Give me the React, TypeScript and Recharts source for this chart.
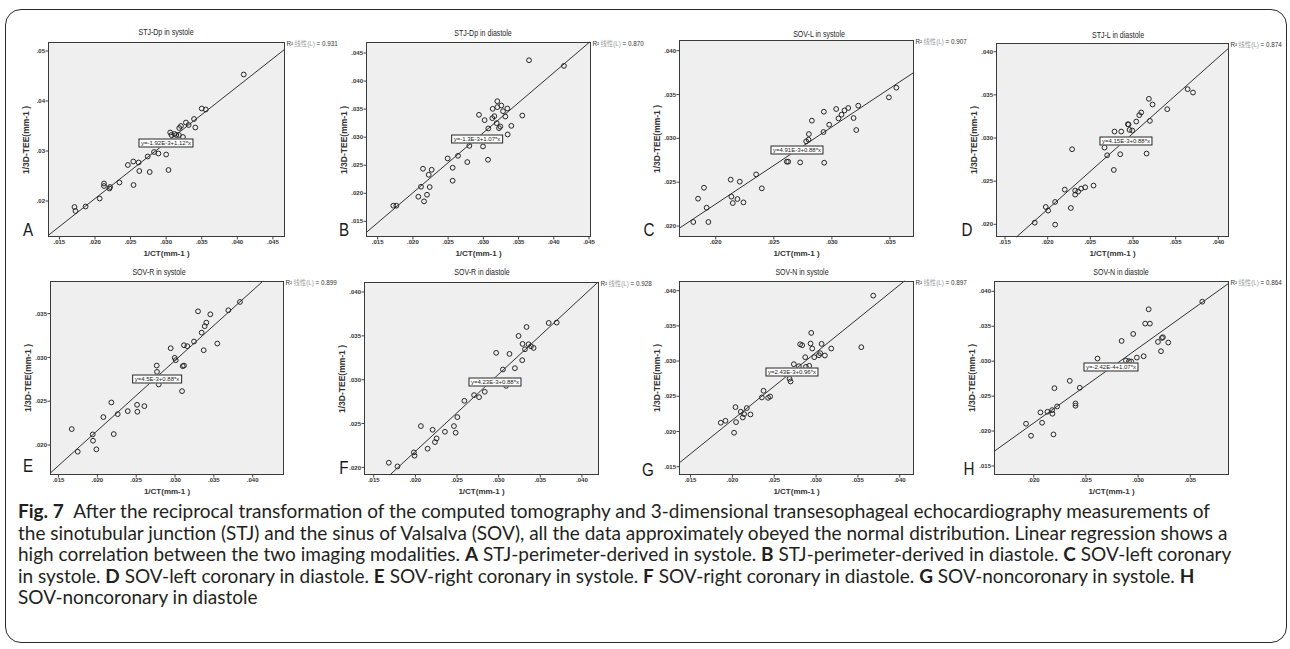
import { CartesianGrid, ReferenceLine, Scatter, ScatterChart, XAxis, YAxis } from "recharts";

type Pt = [number, number]; // [1/CT, 1/3D-TEE] in mm^-1

// values
const stjDpSystole: Pt[] = [
  [0.01712, 0.0188], [0.01726, 0.018], [0.01868, 0.0189], [0.02066, 0.0205], [0.02127, 0.0235],
  [0.02127, 0.023], [0.02203, 0.0225], [0.02212, 0.0228], [0.02344, 0.0237], [0.02462, 0.0272],
  [0.02538, 0.0279], [0.02542, 0.0232], [0.02613, 0.0277], [0.02623, 0.026], [0.02741, 0.0289],
  [0.02769, 0.0258], [0.0283, 0.0298], [0.02892, 0.0295], [0.03, 0.0293], [0.03033, 0.0262],
  [0.03057, 0.0337], [0.03075, 0.0332], [0.03118, 0.0334], [0.03142, 0.0332], [0.03184, 0.0346],
  [0.03208, 0.035], [0.03179, 0.0332], [0.03236, 0.0328], [0.03278, 0.0357], [0.03316, 0.0352],
  [0.03392, 0.0364], [0.0341, 0.0347], [0.035, 0.0385], [0.03557, 0.0383], [0.0409, 0.0453],
];
const stjDpDiastole: Pt[] = [
  [0.01722, 0.01779], [0.01765, 0.01779], [0.02077, 0.01939], [0.02115, 0.02117], [0.02143, 0.02437],
  [0.02158, 0.01856], [0.022, 0.01974], [0.02224, 0.0233], [0.02238, 0.02111], [0.02266, 0.02419],
  [0.02493, 0.02621], [0.02564, 0.02455], [0.02564, 0.02224], [0.0264, 0.02668], [0.02772, 0.02556],
  [0.02801, 0.02846], [0.02938, 0.03398], [0.02995, 0.02835], [0.03018, 0.03303], [0.03066, 0.02597],
  [0.0307, 0.03155], [0.03127, 0.03339], [0.03132, 0.03505], [0.03156, 0.03374], [0.03189, 0.0325],
  [0.03198, 0.03641], [0.03198, 0.03535], [0.03222, 0.03161], [0.03241, 0.0319], [0.03255, 0.03564],
  [0.03279, 0.03463], [0.03312, 0.03368], [0.0334, 0.03511], [0.03345, 0.03048], [0.03397, 0.03202],
  [0.03553, 0.03386], [0.03648, 0.04371], [0.04144, 0.0427],
];
const sovLSystole: Pt[] = [
  [0.01807, 0.02046], [0.01848, 0.02312], [0.01899, 0.02437], [0.01922, 0.02209], [0.01937, 0.02046],
  [0.02129, 0.02529], [0.02135, 0.02335], [0.02147, 0.02262], [0.02187, 0.02308], [0.02207, 0.02506],
  [0.02239, 0.0227], [0.02348, 0.02589], [0.02397, 0.0243], [0.02612, 0.02734], [0.02624, 0.02734],
  [0.02727, 0.02726], [0.02779, 0.02966], [0.02799, 0.02985], [0.02802, 0.03049], [0.02828, 0.03202],
  [0.02928, 0.03072], [0.02931, 0.03304], [0.02934, 0.02722], [0.02977, 0.03156], [0.03037, 0.03335],
  [0.03057, 0.03228], [0.03083, 0.0327], [0.03109, 0.03319], [0.03141, 0.03346], [0.03187, 0.03232],
  [0.0321, 0.03095], [0.03227, 0.03373], [0.03491, 0.03468], [0.03555, 0.03578],
];
const stjLDiastole: Pt[] = [
  [0.01848, 0.02019], [0.01977, 0.02201], [0.02005, 0.02159], [0.02087, 0.02259], [0.02087, 0.01996],
  [0.022, 0.02402], [0.02271, 0.02189], [0.02286, 0.0287], [0.02322, 0.02391], [0.02322, 0.02344],
  [0.02357, 0.02379], [0.02392, 0.02414], [0.02439, 0.02429], [0.02537, 0.02449], [0.02666, 0.02889],
  [0.02697, 0.028], [0.02775, 0.0263], [0.02783, 0.03075], [0.0285, 0.02812], [0.02862, 0.03075],
  [0.0294, 0.0316], [0.02948, 0.03156], [0.02959, 0.03094], [0.02991, 0.03087], [0.03038, 0.03191],
  [0.03073, 0.03265], [0.03096, 0.03296], [0.03159, 0.0282], [0.03186, 0.03454], [0.03198, 0.03199],
  [0.03229, 0.03388], [0.03401, 0.03334], [0.0364, 0.03566], [0.03703, 0.03527],
];
const sovRSystole: Pt[] = [
  [0.0167, 0.02182], [0.01747, 0.01924], [0.0194, 0.02121], [0.01944, 0.02049], [0.01987, 0.01951],
  [0.02077, 0.02319], [0.0218, 0.02486], [0.02211, 0.02125], [0.02262, 0.02353], [0.02391, 0.02387],
  [0.02511, 0.02459], [0.02515, 0.0238], [0.02605, 0.02444], [0.02764, 0.02907], [0.02768, 0.02835],
  [0.0279, 0.02691], [0.02944, 0.03105], [0.02996, 0.02995], [0.03009, 0.02968], [0.0309, 0.02615],
  [0.03099, 0.029], [0.03115, 0.02907], [0.03115, 0.03139], [0.03158, 0.03128], [0.03244, 0.03181],
  [0.03296, 0.03526], [0.03343, 0.03283], [0.03369, 0.03082], [0.03382, 0.03356], [0.03403, 0.03397],
  [0.03454, 0.03492], [0.03544, 0.03158], [0.03686, 0.03538], [0.03836, 0.03633],
];
const sovRDiastole: Pt[] = [
  [0.01681, 0.02053], [0.01785, 0.02011], [0.01982, 0.02171], [0.0199, 0.02133], [0.02066, 0.02471],
  [0.02147, 0.02213], [0.02207, 0.02429], [0.02235, 0.02288], [0.02255, 0.0233], [0.02355, 0.02406],
  [0.02463, 0.02471], [0.02484, 0.02395], [0.02504, 0.02573], [0.02588, 0.02759], [0.02705, 0.02824],
  [0.02765, 0.02801], [0.02833, 0.02862], [0.0297, 0.03306], [0.03051, 0.03116], [0.0309, 0.0293],
  [0.0313, 0.03294], [0.03195, 0.03131], [0.03239, 0.03499], [0.03283, 0.03222], [0.03287, 0.03408],
  [0.03316, 0.03347], [0.03335, 0.03601], [0.03359, 0.03404], [0.03388, 0.03381], [0.0342, 0.03362],
  [0.03601, 0.03647], [0.03697, 0.03651],
];
const sovNSystole: Pt[] = [
  [0.01861, 0.02124], [0.01917, 0.02152], [0.0202, 0.01982], [0.02037, 0.02346], [0.02044, 0.02133],
  [0.021, 0.0228], [0.02124, 0.02199], [0.0214, 0.02247], [0.02172, 0.02332], [0.02216, 0.02242],
  [0.02352, 0.02483], [0.02372, 0.02578], [0.02427, 0.02478], [0.02451, 0.02497], [0.02623, 0.02819],
  [0.02683, 0.02748], [0.02695, 0.0271], [0.02734, 0.02956], [0.02794, 0.02927], [0.0281, 0.03239],
  [0.02834, 0.03225], [0.0287, 0.03055], [0.02878, 0.02918], [0.02918, 0.02932], [0.02934, 0.03249],
  [0.02942, 0.034], [0.02954, 0.03178], [0.02978, 0.03055], [0.03034, 0.03083], [0.03049, 0.03112],
  [0.03066, 0.03244], [0.03105, 0.03079], [0.03181, 0.03178], [0.0354, 0.03197], [0.03683, 0.03929],
];
const sovNDiastole: Pt[] = [
  [0.01926, 0.02105], [0.01974, 0.01933], [0.02064, 0.02267], [0.0208, 0.02119], [0.02131, 0.02276],
  [0.02176, 0.023], [0.02179, 0.02248], [0.02189, 0.01952], [0.02198, 0.02614], [0.02224, 0.02352],
  [0.02345, 0.02719], [0.024, 0.02395], [0.024, 0.02362], [0.02441, 0.02619], [0.02611, 0.03038],
  [0.02842, 0.0329], [0.02883, 0.0301], [0.02912, 0.03], [0.02934, 0.02995], [0.02953, 0.0339],
  [0.02988, 0.03052], [0.03053, 0.03071], [0.03068, 0.03538], [0.03101, 0.03743], [0.03113, 0.03538],
  [0.0319, 0.03276], [0.03219, 0.03143], [0.03228, 0.03333], [0.03238, 0.03343], [0.03289, 0.03267],
  [0.03615, 0.03852],
];

// fitted lines [intercept, slope] as drawn in each plot
const fits: [number, number][] = [
  [-1.92e-3, 1.12], [-1.3e-3, 1.07], [4.91e-3, 0.88], [4.15e-3, 0.88],
  [5.65e-3, 0.8], [4.23e-3, 0.88], [2.43e-3, 0.96], [-2.42e-4, 1.07],
];
const eqLabels = [
  "y=-1.92E-3+1.12*x", "y=-1.3E-3+1.07*x", "y=4.91E-3+0.88*x", "y=4.15E-3+0.88*x",
  "y=4.5E-3+0.88*x", "y=4.23E-3+0.88*x", "y=2.43E-3+0.96*x", "y=-2.42E-4+1.07*x",
];
const r2Values = ["0.931", "0.870", "0.907", "0.874", "0.899", "0.928", "0.897", "0.864"];
const titles = [
  "STJ-Dp in systole", "STJ-Dp in diastole", "SOV-L in systole", "STJ-L in diastole",
  "SOV-R in systole", "SOV-R in diastole", "SOV-N in systole", "SOV-N in diastole",
];
const letters = ["A", "B", "C", "D", "E", "F", "G", "H"];

const ticks015to045 = [0.015, 0.02, 0.025, 0.03, 0.035, 0.04, 0.045];
const ticks015to040 = [0.015, 0.02, 0.025, 0.03, 0.035, 0.04];
const ticks020to040 = [0.02, 0.025, 0.03, 0.035, 0.04];
const ticks020to035 = [0.02, 0.025, 0.03, 0.035];
const ticks02to05 = [0.02, 0.03, 0.04, 0.05];

const X_TITLE = "1/CT(mm-1 )";
const Y_TITLE = "1/3D-TEE(mm-1 )";

const captionLines: { b?: string; t?: string }[][] = [
  [{ b: "Fig. 7" }, { t: "\u2002After the reciprocal transformation of the computed tomography and 3-dimensional transesophageal echocardiography measurements of" }],
  [{ t: "the sinotubular junction (STJ) and the sinus of Valsalva (SOV), all the data approximately obeyed the normal distribution. Linear regression shows a" }],
  [{ t: "high correlation between the two imaging modalities. " }, { b: "A" }, { t: " STJ-perimeter-derived in systole. " }, { b: "B" }, { t: " STJ-perimeter-derived in diastole. " }, { b: "C" }, { t: " SOV-left coronary" }],
  [{ t: "in systole. " }, { b: "D" }, { t: " SOV-left coronary in diastole. " }, { b: "E" }, { t: " SOV-right coronary in systole. " }, { b: "F" }, { t: " SOV-right coronary in diastole. " }, { b: "G" }, { t: " SOV-noncoronary in systole. " }, { b: "H" }],
  [{ t: "SOV-noncoronary in diastole" }],
];

// ---- layout (page pixels) ----
type Layout = {
  box: [number, number, number, number]; // left, top, right, bottom of plot frame
  xDom: [number, number];
  yDom: [number, number];
  xTicks: number[];
  yTicks: number[];
  yDec: number;
  title: [number, number];
  eq: [number, number];
  letter: [number, number];
};

const LAYOUT: Layout[] = [
  { box: [48, 42, 285, 237], xDom: [0.0134, 0.0467], yDom: [0.0128, 0.0518], xTicks: ticks015to045, yTicks: ticks02to05, yDec: 2, title: [166, 32], eq: [166, 143], letter: [28, 229] },
  { box: [366, 42, 591, 237], xDom: [0.01334, 0.04528], yDom: [0.01221, 0.04696], xTicks: ticks015to045, yTicks: [0.015, ...ticks020to040, 0.045], yDec: 3, title: [483, 33], eq: [477, 139], letter: [344, 229] },
  { box: [679, 40, 914, 237], xDom: [0.01684, 0.03707], yDom: [0.01875, 0.04122], xTicks: ticks020to035, yTicks: ticks020to040, yDec: 3, title: [819, 34], eq: [797, 150], letter: [649, 229] },
  { box: [996, 43, 1229, 237], xDom: [0.01394, 0.04125], yDom: [0.01853, 0.04101], xTicks: ticks015to040, yTicks: ticks020to040, yDec: 3, title: [1118, 35], eq: [1126, 141], letter: [967, 229] },
  { box: [50, 281, 284, 475], xDom: [0.0139, 0.04403], yDom: [0.01658, 0.03872], xTicks: ticks015to040, yTicks: ticks020to035, yDec: 3, title: [159, 272], eq: [157, 379], letter: [28, 465] },
  { box: [364, 282, 599, 475], xDom: [0.01383, 0.04205], yDom: [0.01913, 0.04114], xTicks: ticks015to040, yTicks: ticks020to040, yDec: 3, title: [482, 272], eq: [495, 382], letter: [344, 467] },
  { box: [679, 281, 914, 475], xDom: [0.01362, 0.0417], yDom: [0.01382, 0.04137], xTicks: ticks015to040, yTicks: [0.015, ...ticks020to040], yDec: 3, title: [802, 272], eq: [792, 372], letter: [648, 469] },
  { box: [994, 281, 1229, 475], xDom: [0.01619, 0.03871], yDom: [0.01371, 0.04148], xTicks: ticks020to035, yTicks: [0.015, ...ticks020to040], yDec: 3, title: [1121, 272], eq: [1111, 367], letter: [969, 468] },
];

const SERIES = [stjDpSystole, stjDpDiastole, sovLSystole, stjLDiastole, sovRSystole, sovRDiastole, sovNSystole, sovNDiastole];

const PADL = 30;
const PADR = 4;
const PADT = 4;
const PADB = 20;
const INK = "#262626";
const SANS = "'Liberation Sans', Arial, sans-serif";

const fmt = (dec: number) => (v: number) => v.toFixed(dec).replace(/^0/, "");
const tickStyle = { fontSize: 6, fill: "#333", fontFamily: SANS, fontWeight: 700 };

function Ring(props: any) {
  const { cx, cy } = props;
  if (cx == null || cy == null) return null;
  return <circle cx={cx} cy={cy} r={2.4} fill="none" stroke="#262626" strokeWidth={1} />;
}

function Panel({ i }: { i: number }) {
  const L = LAYOUT[i];
  const [l, t, r, b] = L.box;
  const [x0, x1] = L.xDom;
  const [y0, y1] = L.yDom;
  const [icpt, slope] = fits[i];
  const data = SERIES[i].map(([x, y]) => ({ x, y }));
  // clip the fitted line to the plot frame
  const xs = Math.max(x0, (y0 - icpt) / slope);
  const xe = Math.min(x1, (y1 - icpt) / slope);
  const W = r - l + PADL + PADR;
  const H = b - t + PADT + PADB;

  return (
    <>
      <div style={{ position: "absolute", left: l - PADL, top: t - PADT }}>
        <ScatterChart width={W} height={H} margin={{ top: PADT, right: PADR, left: 0, bottom: 0 }}>
          <CartesianGrid fill="#efefef" horizontal={false} vertical={false} />
          <XAxis
            type="number"
            dataKey="x"
            domain={L.xDom}
            ticks={L.xTicks}
            interval={0}
            allowDataOverflow
            tickFormatter={fmt(3)}
            height={PADB}
            axisLine={false}
            tickLine={{ stroke: "#444" }}
            tickSize={2.5}
            tickMargin={0.5}
            tick={tickStyle}
          />
          <YAxis
            type="number"
            dataKey="y"
            domain={L.yDom}
            ticks={L.yTicks}
            interval={0}
            allowDataOverflow
            tickFormatter={fmt(L.yDec)}
            width={PADL}
            axisLine={false}
            tickLine={{ stroke: "#444" }}
            tickSize={2.5}
            tickMargin={0.5}
            tick={tickStyle}
          />
          <ReferenceLine
            segment={[
              { x: xs, y: icpt + slope * xs },
              { x: xe, y: icpt + slope * xe },
            ]}
            stroke="#1c1c1c"
            strokeWidth={0.9}
            ifOverflow="visible"
          />
          <Scatter data={data} shape={Ring} isAnimationActive={false} />
        </ScatterChart>
      </div>

      {/* plot frame */}
      <div
        style={{
          position: "absolute",
          left: l,
          top: t,
          width: r - l,
          height: b - t,
          border: "1px solid #3a3a3a",
          boxSizing: "border-box",
          pointerEvents: "none",
        }}
      />

      <div style={{ ...centered(L.title[0], L.title[1]), transform: "translate(-50%, -50%) scaleX(0.74)", fontFamily: SANS, fontSize: 9.5, color: INK }}>
        {titles[i]}
      </div>

      <div style={{ position: "absolute", left: r + 1.5, top: t - 2.5, fontFamily: SANS, fontSize: 6.3, color: "#333", whiteSpace: "nowrap", lineHeight: "8px" }}>
        R²<span style={{ color: "#9a9a9a", fontFamily: "'Noto Sans CJK SC', sans-serif" }}> 线性</span>
        <span style={{ color: "#9a9a9a" }}>(L)</span> = {r2Values[i]}
      </div>

      <div
        style={{
          ...centered(L.eq[0], L.eq[1]),
          fontFamily: SANS,
          fontSize: 6,
          lineHeight: "7px",
          color: "#222",
          background: "#fff",
          border: "1px solid #222",
          padding: "0 1.5px",
        }}
      >
        {eqLabels[i]}
      </div>

      <div style={{ ...centered(l - 22, (t + b) / 2), transform: "translate(-50%, -50%) rotate(-90deg)", fontFamily: SANS, fontWeight: 700, fontSize: 8.5, color: "#333" }}>
        {Y_TITLE}
      </div>
      <div style={{ ...centered((l + r) / 2, b + 17), fontFamily: SANS, fontWeight: 700, fontSize: 8, color: "#333" }}>{X_TITLE}</div>

      <div style={{ ...centered(L.letter[0], L.letter[1]), transform: "translate(-50%, -50%) scaleX(0.8)", fontFamily: SANS, fontSize: 19, color: "#1a1a1a" }}>
        {letters[i]}
      </div>
    </>
  );
}

function centered(x: number, y: number): React.CSSProperties {
  return {
    position: "absolute",
    left: x,
    top: y,
    transform: "translate(-50%, -50%)",
    whiteSpace: "nowrap",
    lineHeight: 1,
  };
}

export default function App() {
  return (
    <div style={{ position: "absolute", left: 0, top: 0, width: 1290, height: 649, background: "#fff", overflow: "hidden" }}>
      <div
        style={{
          position: "absolute",
          left: 5,
          top: 9,
          width: 1282,
          height: 634,
          border: "1.5px solid #2a2a2a",
          borderRadius: 16,
          boxSizing: "border-box",
        }}
      />
      {LAYOUT.map((_, i) => (
        <Panel key={i} i={i} />
      ))}
      {captionLines.map((line, k) => (
        <div
          key={k}
          style={{
            position: "absolute",
            left: 18,
            top: 500 + k * 21.5,
            fontFamily: "Lato, 'Open Sans', sans-serif",
            fontSize: 19,
            lineHeight: "21.5px",
            color: "#231f20",
            whiteSpace: "nowrap",
          }}
        >
          {line.map((s, j) => (s.b ? <b key={j}>{s.b}</b> : <span key={j}>{s.t}</span>))}
        </div>
      ))}
    </div>
  );
}
